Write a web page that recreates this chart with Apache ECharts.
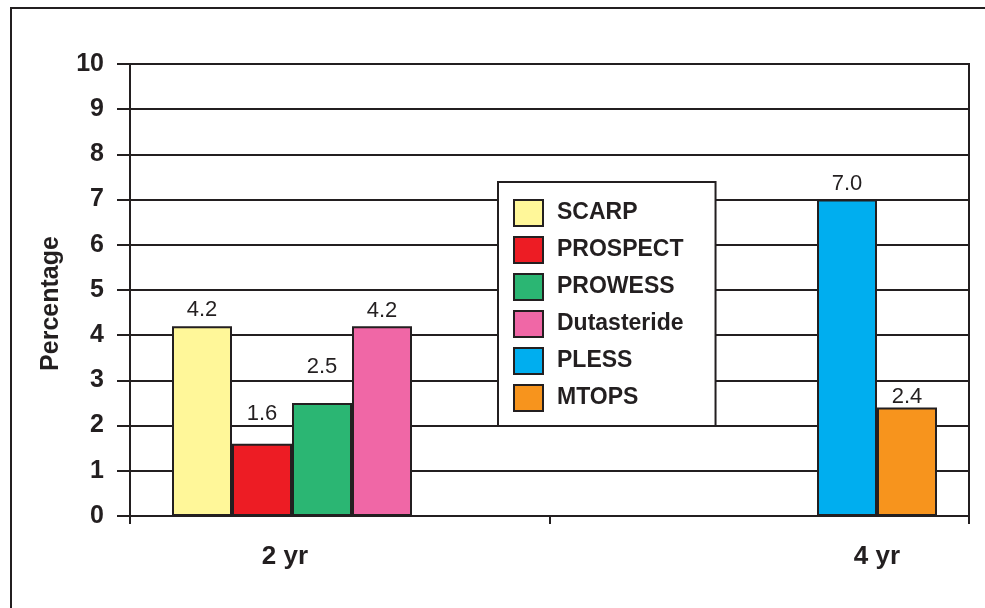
<!DOCTYPE html>
<html>
<head>
<meta charset="utf-8">
<script src="https://cdn.jsdelivr.net/npm/echarts@6/dist/echarts.min.js"></script>
<style>
  html, body { margin: 0; padding: 0; background: #fff; }
  #chart { width: 985px; height: 608px; }
</style>
</head>
<body>
<div id="chart"></div>
<script>
// Time points on the horizontal axis
const periods = ['2 yr', '4 yr'];

// Studies reported at 2 years and their percentages
const studies2yr = ['SCARP', 'PROSPECT', 'PROWESS', 'Dutasteride'];
const values2yr = [4.2, 1.6, 2.5, 4.2];

// Studies reported at 4 years and their percentages
const studies4yr = ['PLESS', 'MTOPS'];
const values4yr = [7.0, 2.4];

// Value axis range
const yMin = 0;
const yMax = 10;
const yStep = 1;

const colors = {
  SCARP: '#fff799',
  PROSPECT: '#ed1c24',
  PROWESS: '#2bb673',
  Dutasteride: '#f067a6',
  PLESS: '#00aeef',
  MTOPS: '#f7941d'
};
// distance of each value label above its bar
const labelLift = {
  SCARP: 5, PROSPECT: 19, PROWESS: 25, Dutasteride: 4, PLESS: 5, MTOPS: 0
};

const ink = '#231f20';
const font = '"Liberation Sans", Arial, Helvetica, sans-serif';
const plotTop = 64, plotHeight = 452;

function barSeries(name, value, axisIdx) {
  return {
    type: 'bar',
    name: name,
    xAxisIndex: axisIdx,
    yAxisIndex: axisIdx,
    data: [value],
    barWidth: 60,
    barGap: '0%',
    itemStyle: { color: colors[name], borderColor: ink, borderWidth: 2 },
    label: {
      show: true,
      position: 'top',
      distance: labelLift[name],
      formatter: p => p.value.toFixed(1),
      fontSize: 22,
      fontFamily: font,
      color: ink
    },
    emphasis: { disabled: true }
  };
}

const chart = echarts.init(document.getElementById('chart'), null, { renderer: 'canvas' });

const hiddenY = { type: 'value', min: yMin, max: yMax, interval: yStep, show: false };
const groupX = (idx, cat) => ({
  type: 'category',
  gridIndex: idx,
  data: [cat],
  axisLine: { show: false },
  axisTick: { show: false },
  splitLine: { show: false },
  axisLabel: {
    margin: 28,
    fontSize: 26,
    fontWeight: 'bold',
    fontFamily: font,
    color: ink,
    padding: idx === 1 ? [0, 14, 0, 0] : 0
  }
});

chart.setOption({
  backgroundColor: '#fff',
  animation: false,
  textStyle: { fontFamily: font },
  graphic: [{
    type: 'rect',
    shape: { x: 11, y: 8, width: 1000, height: 700 },
    style: { fill: null, stroke: ink, lineWidth: 2 },
    silent: true
  }],
  legend: {
    orient: 'vertical',
    left: 498,
    top: 182,
    padding: [17, 32, 14, 15],
    backgroundColor: '#fff',
    borderColor: ink,
    borderWidth: 2,
    itemWidth: 29,
    itemHeight: 26,
    itemGap: 9,
    icon: 'rect',
    selectedMode: false,
    data: studies2yr.concat(studies4yr),
    textStyle: {
      fontSize: 23,
      fontWeight: 'bold',
      fontFamily: font,
      color: ink,
      padding: [0, 0, 0, 9]
    }
  },
  grid: [
    { left: 130, right: 16, top: plotTop, height: plotHeight, show: true, borderColor: ink, borderWidth: 2 },
    { left: 130, width: 324, top: plotTop, height: plotHeight },
    { left: 785, width: 184, top: plotTop, height: plotHeight }
  ],
  xAxis: [
    {
      type: 'category',
      gridIndex: 0,
      data: periods,
      boundaryGap: true,
      axisLine: { lineStyle: { color: ink, width: 2 } },
      axisTick: { show: true, length: 8, lineStyle: { color: ink, width: 2 } },
      axisLabel: { show: false },
      splitLine: { show: false }
    },
    groupX(1, periods[0]),
    groupX(2, periods[1])
  ],
  yAxis: [
    {
      type: 'value',
      gridIndex: 0,
      min: yMin,
      max: yMax,
      interval: yStep,
      name: 'Percentage',
      nameLocation: 'middle',
      nameGap: 66,
      nameTextStyle: {
        fontSize: 25,
        fontWeight: 'bold',
        fontFamily: font,
        color: ink,
        padding: [0, 27, 0, 0]
      },
      axisLine: { show: true, lineStyle: { color: ink, width: 2 } },
      axisTick: { show: true, length: 13, lineStyle: { color: ink, width: 2 } },
      axisLabel: { margin: 26, fontSize: 25, fontWeight: 'bold', fontFamily: font, color: ink },
      splitLine: { show: true, lineStyle: { color: ink, width: 2 } }
    },
    Object.assign({ gridIndex: 1 }, hiddenY),
    Object.assign({ gridIndex: 2 }, hiddenY)
  ],
  series: studies2yr.map((s, i) => barSeries(s, values2yr[i], 1))
    .concat(studies4yr.map((s, i) => barSeries(s, values4yr[i], 2)))
});
</script>
</body>
</html>
